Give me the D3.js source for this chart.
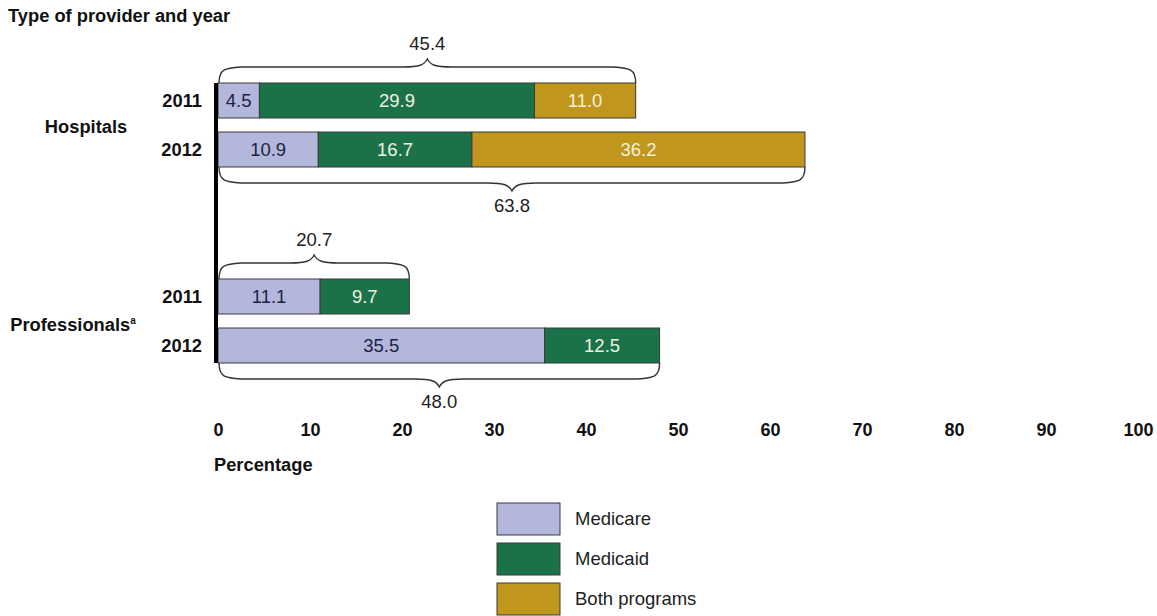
<!DOCTYPE html>
<html>
<head>
<meta charset="utf-8">
<script src="https://cdn.jsdelivr.net/npm/d3@7"></script>
<style>
  body { margin: 0; background: #fff; }
  text { font-family: Arial, "Liberation Sans", sans-serif; }
</style>
</head>
<body>
<svg id="chart" width="1157" height="616"></svg>
<script>
const groups = ["Hospitals", "Professionals"];
const years = ["2011", "2012"];
const seriesNames = ["Medicare", "Medicaid", "Both programs"];
const medicare = [4.5, 10.9, 11.1, 35.5];
const medicaid = [29.9, 16.7, 9.7, 12.5];
const bothPrograms = [11.0, 36.2, 0, 0];
const totalLabels = ["45.4", "63.8", "20.7", "48.0"];
const xTicks = [0, 10, 20, 30, 40, 50, 60, 70, 80, 90, 100];
const colors = ["#b3b7dc", "#1b7249", "#c0961c"];
const textColors = ["#1c2340", "#eef2e0", "#f6f0dc"];

const svg = d3.select("#chart");
const x = d3.scaleLinear().domain([0, 100]).range([218, 1138]);
const yGroup = d3.scaleBand().domain(groups).range([83, 475]).padding(0);
const yYear = d3.scaleBand().domain(years).range([0, 84]).paddingInner(14 / 49).paddingOuter(0);

const rows = [];
groups.forEach((g, gi) => years.forEach((yr, yi) => {
  const i = gi * 2 + yi;
  rows.push({ group: g, year: yr, idx: i, values: [medicare[i], medicaid[i], bothPrograms[i]], total: totalLabels[i] });
}));
const rowY = r => yGroup(r.group) + yYear(r.year);
const bh = yYear.bandwidth();

// Title
svg.append("text").attr("x", 8).attr("y", 16).attr("dy", "0.35em")
  .attr("font-size", 18.3).attr("font-weight", "bold").attr("fill", "#111")
  .text("Type of provider and year");

// Bars
rows.forEach(r => {
  let cum = 0;
  r.values.forEach((v, si) => {
    if (!v) return;
    const x0 = x(cum), x1 = x(cum + v);
    svg.append("rect").attr("x", x0).attr("y", rowY(r)).attr("width", x1 - x0).attr("height", bh)
      .attr("fill", colors[si]).attr("stroke", "#3a3a3a").attr("stroke-width", 1);
    svg.append("text").attr("x", (x0 + x1) / 2).attr("y", rowY(r) + bh / 2).attr("dy", "0.35em")
      .attr("text-anchor", "middle").attr("font-size", 18.5).attr("fill", textColors[si])
      .text(v.toFixed(1));
    cum += v;
  });
  // year label
  svg.append("text").attr("x", 202).attr("y", rowY(r) + bh / 2).attr("dy", "0.35em")
    .attr("text-anchor", "end").attr("font-size", 18.3).attr("font-weight", "bold").attr("fill", "#111")
    .text(r.year);
  // braces
  const total = d3.sum(r.values);
  const bx0 = x(0) + 1, bx1 = x(total);
  const up = r.year === "2011";
  const d = up ? -1 : 1;
  const edge = up ? rowY(r) : rowY(r) + bh;
  const yH = edge + d * 16, yT = edge + d * 24;
  const mid = (bx0 + bx1) / 2;
  const path = `M${bx0},${edge} C${bx0},${yH - d * 2} ${bx0 + 6},${yH - d * 1} ${bx0 + 22},${yH} L${mid - 24},${yH} C${mid - 8},${yH} ${mid - 3},${yH + d * 2} ${mid},${yT} C${mid + 3},${yH + d * 2} ${mid + 8},${yH} ${mid + 24},${yH} L${bx1 - 22},${yH} C${bx1 - 6},${yH - d * 1} ${bx1},${yH - d * 2} ${bx1},${edge}`;
  svg.append("path").attr("d", path).attr("fill", "none").attr("stroke", "#333").attr("stroke-width", 1.4);
  svg.append("text").attr("x", mid).attr("y", yT + d * 15).attr("dy", "0.35em")
    .attr("text-anchor", "middle").attr("font-size", 18.5).attr("fill", "#222")
    .text(r.total);
});

// Group labels
const groupLabelX = [86, 73];
const groupLabelDy = [44, 46];
groups.forEach((g, gi) => {
  const t = svg.append("text").attr("x", groupLabelX[gi]).attr("y", yGroup(g) + groupLabelDy[gi]).attr("dy", "0.35em")
    .attr("text-anchor", "middle").attr("font-size", 18.3).attr("font-weight", "bold").attr("fill", "#111");
  t.append("tspan").text(g);
  if (g === "Professionals") {
    t.append("tspan").attr("font-size", 10).attr("dy", "-0.7em").text("a");
  }
});

// Vertical axis line
svg.append("rect").attr("x", 214).attr("y", rowY(rows[0]))
  .attr("width", 4).attr("height", rowY(rows[3]) + bh - rowY(rows[0])).attr("fill", "#000");

// X axis
const xAxis = d3.axisBottom(x).tickValues(xTicks).tickSize(0).tickPadding(0).tickFormat(d3.format("d"));
const gx = svg.append("g").attr("transform", "translate(0,430)").call(xAxis);
gx.select(".domain").remove();
gx.selectAll("text").attr("y", 0).attr("dy", "0.35em")
  .attr("font-size", 18).attr("font-weight", "bold").attr("fill", "#111")
  .attr("font-family", "Arial, 'Liberation Sans', sans-serif");

svg.append("text").attr("x", 214).attr("y", 465).attr("dy", "0.35em")
  .attr("font-size", 18.3).attr("font-weight", "bold").attr("fill", "#111")
  .text("Percentage");

// Legend
seriesNames.forEach((s, i) => {
  const ly = 503 + i * 40;
  svg.append("rect").attr("x", 497).attr("y", ly).attr("width", 63).attr("height", 32)
    .attr("fill", colors[i]).attr("stroke", "#3a3a3a").attr("stroke-width", 1);
  svg.append("text").attr("x", 575).attr("y", ly + 16).attr("dy", "0.35em")
    .attr("font-size", 18.5).attr("fill", "#222").text(s);
});
</script>
</body>
</html>
